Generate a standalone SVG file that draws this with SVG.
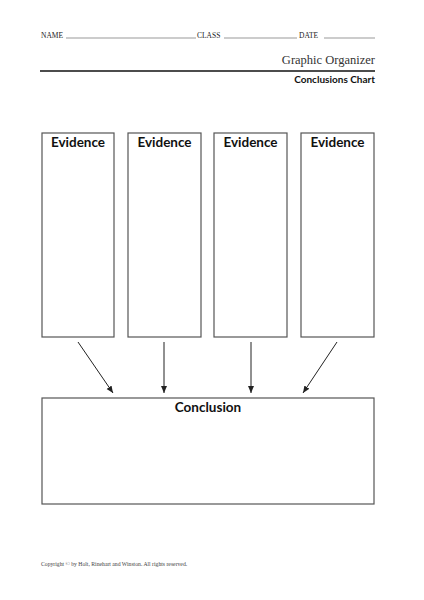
<svg xmlns="http://www.w3.org/2000/svg" width="424" height="600" viewBox="0 0 424 600">
<defs>
<style>
.hdr{font-family:"Liberation Serif",serif;font-size:7.5px;fill:#222}
.blank{stroke:#555;stroke-width:0.6}
.box{fill:#fff;stroke:#555;stroke-width:1.2}
.lbl{font-family:Lato,"Open Sans",sans-serif;font-weight:bold;font-size:13.5px;fill:#111;text-anchor:middle}
.con{stroke:#222;stroke-width:1;fill:none;marker-end:url(#ah)}
</style>
<marker id="ah" markerWidth="8" markerHeight="8" refX="7" refY="4" orient="auto" markerUnits="userSpaceOnUse">
<path d="M0,1 L7,4 L0,7 Z" fill="#222"/>
</marker>
</defs>
<rect width="424" height="600" fill="#fff"/>
<g id="header">
<text class="hdr" x="41" y="38">NAME</text>
<line class="blank" x1="66" y1="38" x2="196" y2="38"/>
<text class="hdr" x="197" y="38">CLASS</text>
<line class="blank" x1="224" y1="38" x2="297" y2="38"/>
<text class="hdr" x="299" y="38">DATE</text>
<line class="blank" x1="324" y1="38" x2="375" y2="38"/>
<text x="375" y="64" text-anchor="end" font-family="'Liberation Serif',serif" font-size="12.5" fill="#333">Graphic Organizer</text>
<line x1="40" y1="71" x2="375" y2="71" stroke="#111" stroke-width="1.6"/>
<text x="375" y="83" text-anchor="end" font-family="Lato,'Open Sans',sans-serif" font-weight="bold" font-size="10" fill="#111">Conclusions Chart</text>
</g>
<g id="evidence1"><rect class="box" x="42" y="133" width="72" height="204"/><text class="lbl" x="78" y="147">Evidence</text></g>
<g id="evidence2"><rect class="box" x="128" y="133" width="73" height="204"/><text class="lbl" x="164.5" y="147">Evidence</text></g>
<g id="evidence3"><rect class="box" x="214" y="133" width="73" height="204"/><text class="lbl" x="250.5" y="147">Evidence</text></g>
<g id="evidence4"><rect class="box" x="301" y="133" width="73" height="204"/><text class="lbl" x="337.5" y="147">Evidence</text></g>
<g id="conclusion"><rect class="box" x="42" y="398" width="332" height="106"/><text class="lbl" x="208" y="412">Conclusion</text></g>
<g id="connectors">
<line class="con" x1="78" y1="342" x2="113" y2="393"/>
<line class="con" x1="164" y1="342" x2="164" y2="393"/>
<line class="con" x1="251" y1="342" x2="251" y2="393"/>
<line class="con" x1="337" y1="342" x2="303" y2="393"/>
</g>
<text x="41" y="566" font-family="'Liberation Serif',serif" font-size="5.7" fill="#444">Copyright © by Holt, Rinehart and Winston. All rights reserved.</text>
</svg>
